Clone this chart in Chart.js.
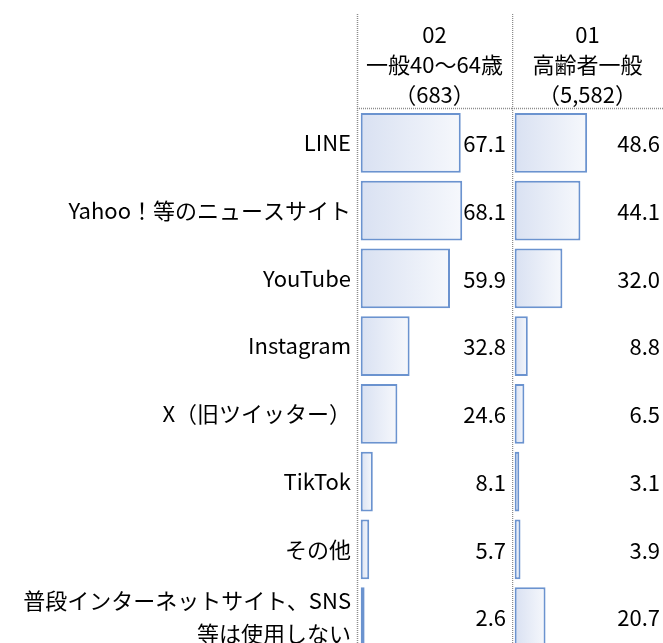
<!DOCTYPE html>
<html lang="ja">
<head>
<meta charset="utf-8">
<script src="https://cdn.jsdelivr.net/npm/chart.js@4/dist/chart.umd.min.js"></script>
<style>
  html, body { margin: 0; padding: 0; background: #fff; overflow: hidden; width: 663px; height: 643px; }
  #wrap { position: relative; width: 663px; height: 643px; overflow: hidden; }
  canvas { position: absolute; top: 0; }
  #c1 { left: 0; }
  #c2 { left: 512px; }
</style>
</head>
<body>
<div id="wrap">
  <canvas id="c1" width="512" height="651"></canvas>
  <canvas id="c2" width="151" height="651"></canvas>
</div>
<script>
  // 項目
  const categories = [
    'LINE',
    'Yahoo！等のニュースサイト',
    'YouTube',
    'Instagram',
    'X（旧ツイッター）',
    'TikTok',
    'その他',
    ['普段インターネットサイト、SNS', '等は使用しない']
  ];

  // 系列ごとの見出し
  const header02 = ['02', '一般40〜64歳', '（683）'];
  const header01 = ['01', '高齢者一般', '（5,582）'];

  // 値 (%)
  const values02 = [67.1, 68.1, 59.9, 32.8, 24.6, 8.1, 5.7, 2.6];
  const values01 = [48.6, 44.1, 32.0, 8.8, 6.5, 3.1, 3.9, 20.7];

  const FONT = "'Noto Sans CJK JP', 'Noto Sans', sans-serif";
  const FONT_SIZE = 22;
  const BORDER = '#6b93cf';

  // バーごとのグラデーション
  function barFill(context) {
    const chart = context.chart;
    if (!chart.chartArea || !chart.scales.x) return '#e4e9f5';
    const x = chart.scales.x;
    const x0 = x.getPixelForValue(0);
    const x1 = x.getPixelForValue(context.raw || 0);
    const g = chart.ctx.createLinearGradient(x0, 0, Math.max(x1, x0 + 1), 0);
    g.addColorStop(0, '#d9e1f2');
    g.addColorStop(1, '#f6f8fc');
    return g;
  }

  // 見出し・点線・数値ラベル
  function panelPlugin(header, labelOffset) {
    return {
      id: 'panel',
      afterDatasetsDraw(chart) {
        const c = chart.ctx;
        const area = chart.chartArea;
        c.save();

        // 点線
        c.strokeStyle = '#8c8c8c';
        c.lineWidth = 1.5;
        c.setLineDash([1, 1]);
        const lx = Math.round(area.left) + 0.5;
        c.beginPath();
        c.moveTo(lx, 14);
        c.lineTo(lx, chart.height);
        c.moveTo(area.left, 108.5);
        c.lineTo(chart.width, 108.5);
        c.stroke();
        c.setLineDash([]);

        // 見出し
        c.fillStyle = '#000';
        c.font = FONT_SIZE + 'px ' + FONT;
        c.textAlign = 'center';
        c.textBaseline = 'middle';
        const cx = (area.left + chart.width) / 2;
        const ys = [35, 65, 95];
        header.forEach((t, i) => c.fillText(t, cx, ys[i]));

        // 数値
        c.textAlign = 'right';
        const meta = chart.getDatasetMeta(0);
        meta.data.forEach((bar, i) => {
          const v = chart.data.datasets[0].data[i];
          c.fillText(v.toFixed(1), area.right - labelOffset, bar.y + 1);
        });
        c.restore();
      }
    };
  }

  function makeChart(id, values, header, opts) {
    return new Chart(document.getElementById(id), {
      type: 'bar',
      data: {
        labels: categories,
        datasets: [{
          data: values,
          backgroundColor: barFill,
          borderColor: BORDER,
          borderWidth: 2,
          borderSkipped: false,
          barPercentage: 0.885,
          categoryPercentage: 1
        }]
      },
      options: {
        indexAxis: 'y',
        responsive: false,
        animation: false,
        layout: { padding: { top: 109, left: 0, right: 0, bottom: 0 } },
        plugins: { legend: { display: false }, tooltip: { enabled: false } },
        scales: {
          x: { display: false, min: opts.xmin, max: opts.xmax },
          y: {
            display: opts.showLabels,
            grid: { display: false, drawTicks: false },
            border: { display: false },
            ticks: {
              color: '#000',
              padding: 6,
              autoSkip: false,
              font: { family: FONT, size: FONT_SIZE, lineHeight: 1.5 }
            },
            afterFit(scale) {
              if (opts.showLabels) scale.width = 357;
              scale.paddingTop = 0;
              scale.paddingBottom = 0;
            }
          }
        }
      },
      plugins: [panelPlugin(header, opts.labelOffset)]
    });
  }

  makeChart('c1', values02, header02, { xmin: -2.5, xmax: 101.5, showLabels: true, labelOffset: 6 });
  makeChart('c2', values01, header01, { xmin: -1.8, xmax: 99.5, showLabels: false, labelOffset: 3 });
</script>
</body>
</html>
